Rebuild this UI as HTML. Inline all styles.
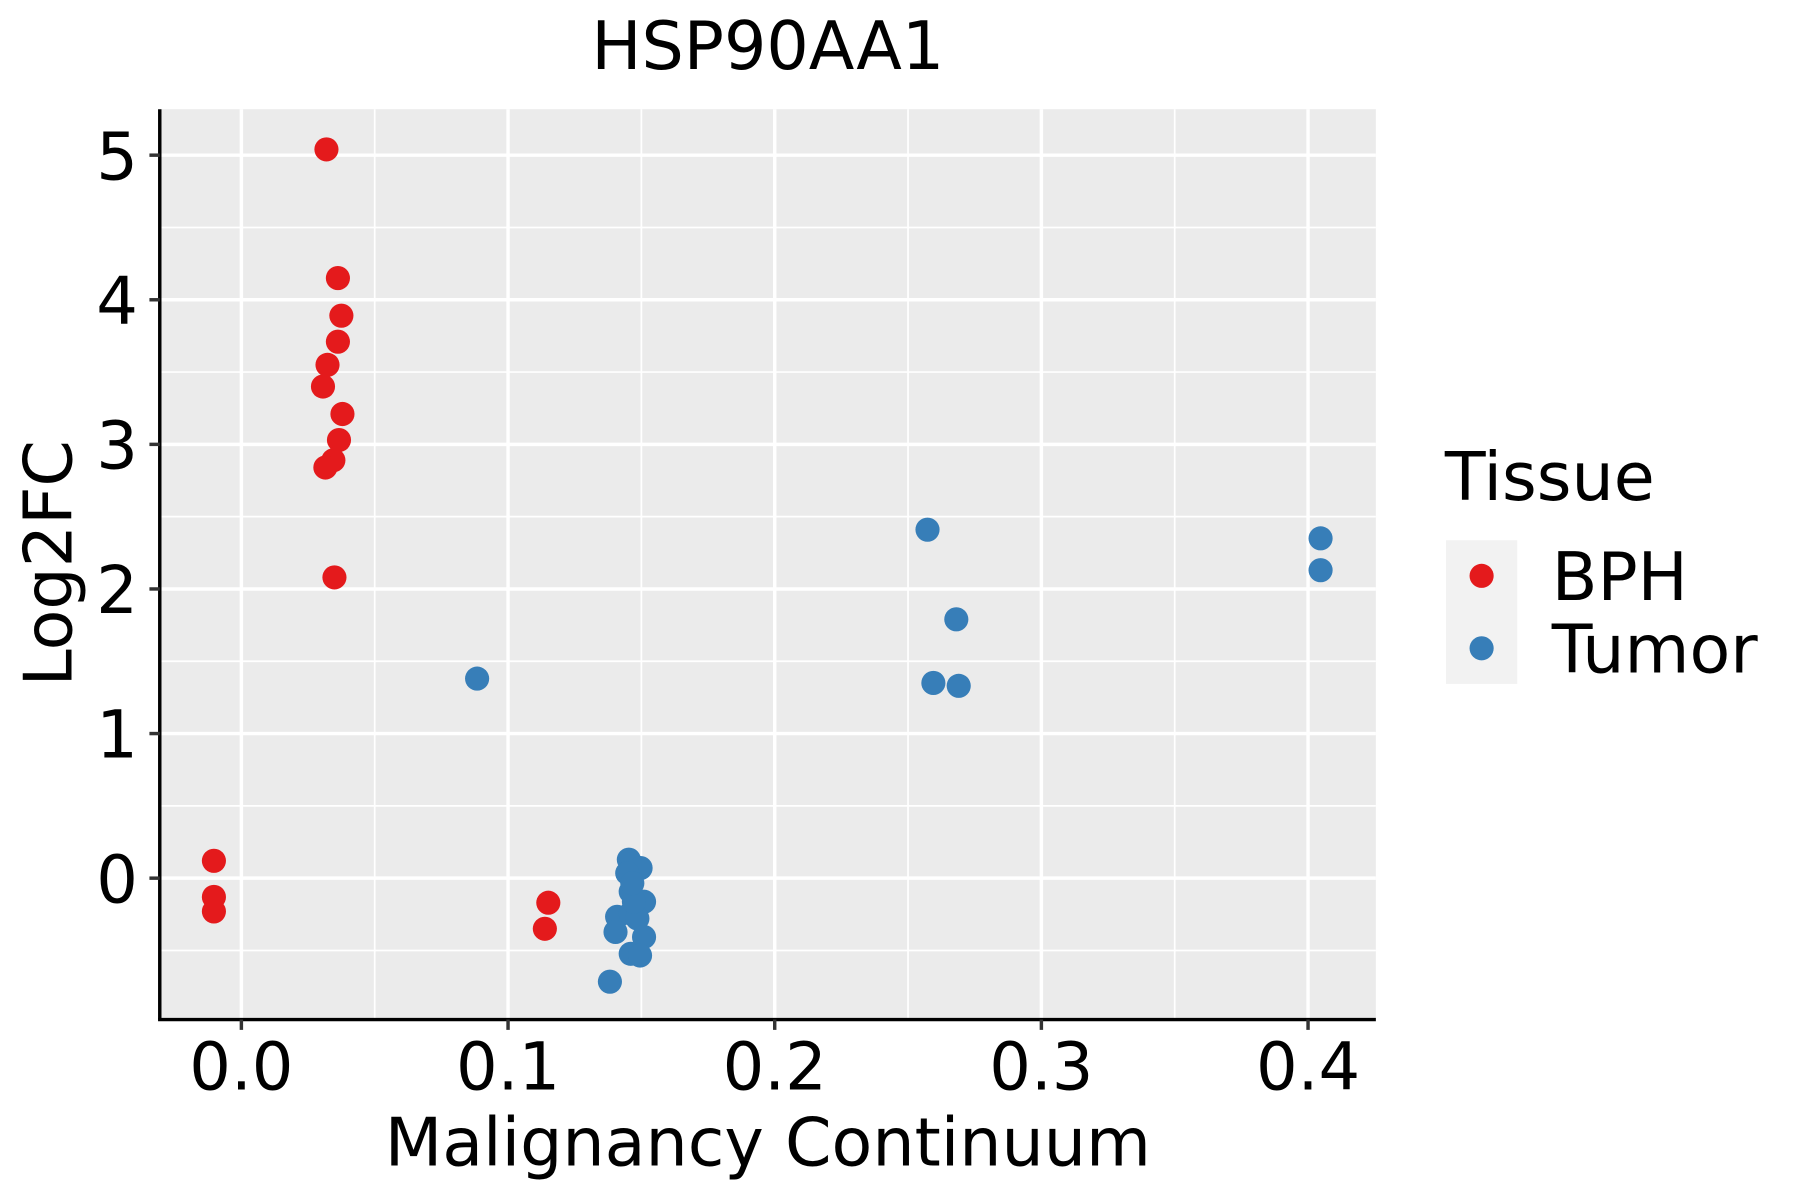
<!DOCTYPE html>
<html><head><meta charset="utf-8"><style>
html,body{margin:0;padding:0;background:#fff;}
svg{display:block;font-family:"DejaVu Sans","Liberation Sans",sans-serif;}
</style></head><body>
<svg id="chart" width="1800" height="1200" viewBox="0 0 1566 1044" xmlns="http://www.w3.org/2000/svg">
<rect x="0" y="0" width="1566" height="1044" fill="#fff"/>
<text x="668" y="60" font-size="58" text-anchor="middle">HSP90AA1</text>
<rect x="139" y="95" width="1058" height="792" fill="#EBEBEB"/>
<g id="grid"></g>
<g id="points"></g>
<line x1="139" y1="95" x2="139" y2="887" stroke="#000" stroke-width="3"/>
<line x1="137.5" y1="887" x2="1197" y2="887" stroke="#000" stroke-width="3"/>
<g id="ticks"></g>
<text x="668" y="1014" font-size="58" text-anchor="middle">Malignancy Continuum</text>
<text x="0" y="0" font-size="58" text-anchor="middle" transform="translate(62,490) rotate(-90)">Log2FC</text>
<g>
<text x="1257" y="435" font-size="58">Tissue</text>
<rect x="1258" y="470" width="62" height="125" fill="#F2F2F2"/>
<circle cx="1289" cy="501" r="10.5" fill="#E41A1C"/>
<text x="1350" y="522" font-size="58">BPH</text>
<circle cx="1289" cy="564" r="10.5" fill="#377EB8"/>
<text x="1350" y="585" font-size="58">Tumor</text>
</g>
</svg>
<script>
const xTicks = [0.0, 0.1, 0.2, 0.3, 0.4];
const xTickLabels = ["0.0", "0.1", "0.2", "0.3", "0.4"];
const yTicks = [0, 1, 2, 3, 4, 5];
const yTickLabels = ["0", "1", "2", "3", "4", "5"];
const bphX = [0.0319, 0.0362, 0.0375, 0.0362, 0.0323, 0.0306, 0.0379, 0.0366, 0.0345, 0.0315, 0.0349, -0.0103, -0.0103, -0.0103, 0.1151, 0.1138];
const bphY = [5.04, 4.15, 3.89, 3.71, 3.55, 3.40, 3.21, 3.03, 2.89, 2.84, 2.08, 0.12, -0.13, -0.23, -0.17, -0.35];
const tumorX = [0.0884, 0.2573, 0.2681, 0.2595, 0.2690, 0.4047, 0.4047, 0.1453, 0.1497, 0.1447, 0.1460, 0.1510, 0.1409, 0.1460, 0.1485, 0.1403, 0.1510, 0.1460, 0.1495, 0.1382, 0.1472, 0.1466];
const tumorY = [1.38, 2.41, 1.79, 1.35, 1.33, 2.35, 2.13, 0.128, 0.070, 0.035, -0.093, -0.163, -0.267, -0.244, -0.279, -0.372, -0.407, -0.523, -0.535, -0.716, -0.163, -0.035];

const NS = "http://www.w3.org/2000/svg";
const PL = 139, PR = 1197, PT = 95, PB = 887;
function xs(v){ return 210 + v * 2320; }
function ys(v){ return 764 - v * 125.8; }
function mk(tag, attrs, parent){
  const e = document.createElementNS(NS, tag);
  for (const k in attrs) e.setAttribute(k, attrs[k]);
  parent.appendChild(e);
  return e;
}
const grid = document.getElementById('grid');
const ticks = document.getElementById('ticks');
const pts = document.getElementById('points');
for (let i = 0; i < xTicks.length; i++) {
  const x = xs(xTicks[i] + 0.05);
  if (x < PR) {
    const l = mk('line', {x1:x, x2:x, y1:PT, y2:PB, stroke:'#fff', 'stroke-width':1.5}, grid);
    
    
  }
}
for (let i = -1; i < yTicks.length; i++) {
  const y = ys(i + 0.5);
  if (y > PT && y < PB) {
    const l = mk('line', {x1:PL, x2:PR, y1:y, y2:y, stroke:'#fff', 'stroke-width':1.5}, grid);
    
    
  }
}
xTicks.forEach((v, i) => {
  const x = xs(v);
  const g = mk('line', {x1:x, x2:x, y1:PT, y2:PB, stroke:'#fff', 'stroke-width':3}, grid);
  
  
  const t = mk('line', {x1:x, x2:x, y1:PB, y2:PB + 9, stroke:'#333', 'stroke-width':3}, ticks);
  
  
  const lb = mk('text', {x:x, y:948, 'font-size':57, 'text-anchor':'middle', fill:'#000'}, ticks);
  lb.textContent = xTickLabels[i];
  
  
});
yTicks.forEach((v, i) => {
  const y = ys(v);
  const g = mk('line', {x1:PL, x2:PR, y1:y, y2:y, stroke:'#fff', 'stroke-width':3}, grid);
  
  
  const t = mk('line', {x1:PL - 9, x2:PL, y1:y, y2:y, stroke:'#333', 'stroke-width':3}, ticks);
  
  
  const lb = mk('text', {x:120, y:y + 21, 'font-size':57, 'text-anchor':'end', fill:'#000'}, ticks);
  lb.textContent = yTickLabels[i];
  
  
});
bphX.forEach((v, i) => {
  const c = mk('circle', {cx:xs(v), cy:ys(bphY[i]), r:10.5, fill:'#E41A1C'}, pts);
  
  
});
tumorX.forEach((v, i) => {
  const c = mk('circle', {cx:xs(v), cy:ys(tumorY[i]), r:10.5, fill:'#377EB8'}, pts);
  
  
});
</script>
</body></html>
